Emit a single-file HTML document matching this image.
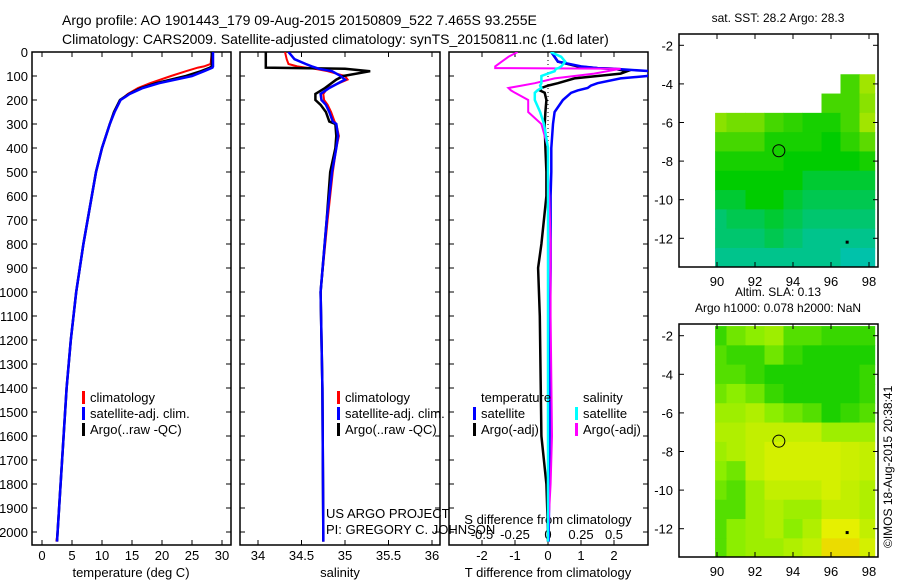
<!DOCTYPE html>
<html><head><meta charset="utf-8"><style>
body{margin:0;background:#fff;}
svg{display:block;font-family:"Liberation Sans",sans-serif;}
</style></head><body>
<svg id="c" width="900" height="580" viewBox="0 0 900 580">
<text x="62" y="25" font-size="14">Argo profile: AO 1901443_179 09-Aug-2015 20150809_522 7.465S 93.255E</text>
<text x="62" y="44" font-size="14">Climatology: CARS2009. Satellite-adjusted climatology: synTS_20150811.nc (1.6d later)</text>
</svg>
<script>
// ---- data ----
const tDepth = [0,50,60,65,80,100,130,150,175,200,250,300,400,500,600,700,800,900,1000,1200,1400,1600,1800,2000,2040];
const tArgo  = [28.3,28.3,28.3,28.0,26.5,24,19,16.5,14.5,13,12,11.3,10,9,8.3,7.6,6.9,6.3,5.7,4.8,4.1,3.6,3.1,2.6,2.5];
const tClim  = [28.3,28.1,27.0,26.0,24.0,21.5,18.0,16.0,14.3,13.1,12.1,11.3,10,9,8.3,7.6,6.9,6.3,5.7,4.8,4.1,3.6,3.1,2.6,2.4];
const tSat   = [28.5,28.5,28.5,28.4,27.0,25.0,19.5,16.8,14.6,13.1,12.1,11.3,10,9,8.3,7.6,6.9,6.3,5.7,4.8,4.1,3.6,3.1,2.6,2.5];
const sDepth = [0,30,50,60,65,70,80,100,115,150,175,200,220,250,290,300,350,400,500,700,1000,1400,2000,2040];
const sArgo  = [34.09,34.09,34.09,34.09,34.09,35.0,35.29,34.98,34.9,34.77,34.66,34.66,34.72,34.78,34.82,34.89,34.9,34.89,34.83,34.79,34.72,34.74,34.75,34.75];
const sClim  = [34.31,34.33,34.35,34.45,34.55,34.65,34.8,35.0,35.03,34.8,34.75,34.76,34.8,34.84,34.88,34.9,34.93,34.9,34.86,34.8,34.72,34.74,34.75,34.75];
const sSat   = [34.35,34.42,34.55,34.62,34.66,34.7,34.85,34.95,35.0,34.82,34.72,34.73,34.78,34.82,34.86,34.9,34.92,34.9,34.85,34.79,34.72,34.74,34.75,34.75];
const dDepth = [0,20,40,60,67,70,80,90,100,110,130,140,150,160,170,200,250,300,400,500,600,800,900,1100,1600,1800,2000,2040];
const dTSat  = [0.1,0.2,0.3,1.0,1.5,2.0,3.1,3.1,3.0,2.2,1.5,1.3,1.2,0.9,0.7,0.45,0.2,0.15,0.1,0.1,0.08,0.08,0.08,0.06,0.05,0.04,0.02,0.02];
const dTArgo = [0.1,0.2,0.3,0.9,1.5,2.0,2.4,2.2,1.5,0.8,0.3,0.0,-0.2,-0.25,-0.1,-0.05,-0.08,-0.1,-0.08,-0.05,-0.05,-0.2,-0.3,-0.25,-0.2,-0.05,0,0];
const dSSat  = [0.02,0.1,0.13,0.1,0.08,0.06,0.05,0.0,-0.05,-0.05,-0.05,-0.06,-0.05,-0.08,-0.1,-0.1,-0.06,-0.03,0,0,0,0,0,0,0,0,0,0];
const dSArgo = [-0.23,-0.3,-0.35,-0.4,-0.4,0.55,0.45,0.35,0.2,0.05,-0.1,-0.2,-0.3,-0.28,-0.25,-0.15,-0.15,-0.05,0,0,0.01,0.02,0.02,0.02,0.03,0.02,0,0];
const depthTicks = [0,100,200,300,400,500,600,700,800,900,1000,1100,1200,1300,1400,1500,1600,1700,1800,1900,2000];
const tTicks = [0,5,10,15,20,25,30];
const sTicks = [34,34.5,35,35.5,36];
const dTTicks = [-2,-1,0,1,2];
const dSTicks = [-0.5,-0.25,0,0.25,0.5];
const latTicks = [-2,-4,-6,-8,-10,-12];
const lonTicks = [90,92,94,96,98];
const mapLons = [90,91,92,93,94,95,96,97,98];
const sstLats = [-4,-5,-6,-7,-8,-9,-10,-11,-12,-13];
const sstVals = [
[null,null,null,null,null,null,null,0.3,0.7],
[null,null,null,null,null,null,0.3,0.3,0.6],
[0.6,0.5,0.5,0.3,0.2,0.1,0.1,0.3,0.7],
[0.3,0.3,0.3,0.1,0.1,0.1,0.0,0.2,0.4],
[0.1,0.1,0.1,0.1,0,0,0,0,0.1],
[0,0,0,0,0,-0.1,-0.1,-0.1,-0.1],
[-0.1,-0.1,0,0,-0.1,-0.2,-0.2,-0.2,-0.2],
[-0.3,-0.2,-0.2,-0.1,-0.2,-0.3,-0.3,-0.3,-0.3],
[-0.3,-0.3,-0.3,-0.2,-0.3,-0.4,-0.4,-0.4,-0.4],
[-0.4,-0.4,-0.4,-0.4,-0.4,-0.4,-0.4,-0.5,-0.5]];
const slaLats = [-2,-3,-4,-5,-6,-7,-8,-9,-10,-11,-12,-13];
const slaVals = [
[.2,.4,.5,.6,.3,.3,.2,.2,.2],
[.3,.2,.2,.4,.2,.1,.1,.1,.1],
[.3,.3,.2,.1,.1,.1,.1,.1,.2],
[.4,.5,.4,.2,.1,.1,.1,.1,.2],
[.6,.6,.7,.5,.4,.3,.1,.2,.3],
[.7,.7,.8,.8,.8,.8,.6,.6,.6],
[.6,.7,.8,.9,.9,.9,.9,.85,.8],
[.5,.4,.8,.9,.9,.9,.9,.85,.8],
[.4,.3,.6,.8,.8,.8,.9,.8,.7],
[.3,.3,.6,.7,.6,.6,.8,.8,.7],
[.3,.5,.6,.7,.5,.7,1.0,1.0,.8],
[.3,.5,.6,.6,.7,.8,1.1,1.1,.9]];
const argoLon = 93.255, argoLat = -7.465;

// ---- helpers ----
const svg = document.getElementById('c');
const NS = 'http://www.w3.org/2000/svg';
function mk(tag, attrs, parent){const e=document.createElementNS(NS,tag);for(const k in attrs)e.setAttribute(k,attrs[k]);(parent||svg).appendChild(e);return e;}
const yTop=52, yBot=545;
const yD = d => yTop + d*0.24;
function clip(id,x,y,w,h){const cp=mk('clipPath',{id:id});mk('rect',{x:x,y:y,width:w,height:h},cp);}

function panel(name,x0,x1){
  const r=mk('rect',{x:x0,y:yTop,width:x1-x0,height:yBot-yTop,fill:'none',stroke:'#000','stroke-width':1.5});
  
  
  depthTicks.forEach(d=>{mk('line',{x1:x0,x2:x0+5,y1:yD(d),y2:yD(d),stroke:'#000'});mk('line',{x1:x1-5,x2:x1,y1:yD(d),y2:yD(d),stroke:'#000'});});
  clip(name+'-clip',x0,yTop,x1-x0,yBot-yTop);
}
function line(name,xs,ds,fx,color,w,cid){
  const pts=xs.map((v,i)=>fx(v).toFixed(1)+','+yD(ds[i]).toFixed(1)).join(' ');
  const p=mk('polyline',{points:pts,fill:'none',stroke:color,'stroke-width':w||2,'clip-path':'url(#'+cid+')'});
  
  
}
function txt(s,x,y,name,opts){const t=mk('text',Object.assign({x:x,y:y,'font-size':13},opts||{}));t.textContent=s;
  
  return t;}
function xticks(ticks,fx,y){
  ticks.forEach(t=>{const x=fx(t);mk('line',{x1:x,x2:x,y1:yBot-5,y2:yBot,stroke:'#000'});mk('line',{x1:x,x2:x,y1:yTop,y2:yTop+5,stroke:'#000'});
    txt(String(t),x,y,'x-tick-label',{'text-anchor':'middle'});});
}
function legend(items,x,y,name){items.forEach((it,i)=>{mk('rect',{x:x,y:y+i*16-11,width:3,height:13,fill:it[1]});
  txt(it[0],x+8,y+i*16,name+'-entry');});}

// depth labels
depthTicks.forEach(d=>{txt(String(d),28,yD(d)+5,'y-tick-label',{'text-anchor':'end'});});

// panel 1 temperature
const fT = t => 42 + 6*t;
panel('temperature-panel',32,231);
xticks(tTicks,fT,560);
txt('temperature (deg C)',131,577,'x-axis-title-temperature',{'text-anchor':'middle'});
line('temp-climatology',tClim,tDepth,fT,'#f00',2,'temperature-panel-clip');
line('temp-argo',tArgo,tDepth,fT,'#000',2.5,'temperature-panel-clip');
line('temp-satellite',tSat,tDepth,fT,'#00f',2.5,'temperature-panel-clip');
legend([['climatology','#f00'],['satellite-adj. clim.','#00f'],['Argo(..raw -QC)','#000']],82,402,'temp-legend');

// panel 2 salinity
const fS = s => 258 + 87*(s-34);
panel('salinity-panel',240,440);
xticks(sTicks,fS,560);
txt('salinity',340,577,'x-axis-title-salinity',{'text-anchor':'middle'});
line('sal-climatology',sClim,sDepth,fS,'#f00',2,'salinity-panel-clip');
line('sal-argo',sArgo,sDepth,fS,'#000',2.5,'salinity-panel-clip');
line('sal-satellite',sSat,sDepth,fS,'#00f',2.5,'salinity-panel-clip');
legend([['climatology','#f00'],['satellite-adj. clim.','#00f'],['Argo(..raw -QC)','#000']],337,402,'sal-legend');
txt('US ARGO PROJECT',326,518,'project-label');
txt('PI: GREGORY C. JOHNSON',326,534,'pi-label');

// panel 3 differences
const fDT = v => 548 + 33*v;
const fDS = v => 548 + 132*v;
panel('difference-panel',449,648);
xticks(dTTicks,fDT,560);
dSTicks.forEach(t=>{txt(String(t),fDS(t),539,'s-diff-tick-label',{'text-anchor':'middle'});});
txt('S difference from climatology',548,524,'s-diff-axis-title',{'text-anchor':'middle'});
txt('T difference from climatology',548,577,'t-diff-axis-title',{'text-anchor':'middle'});
mk('line',{x1:548,x2:548,y1:yTop,y2:yBot,stroke:'#000','stroke-dasharray':'1,3'});
line('tdiff-argo',dTArgo,dDepth,fDT,'#000',2.5,'difference-panel-clip');
line('tdiff-satellite',dTSat,dDepth,fDT,'#00f',2.5,'difference-panel-clip');
line('sdiff-argo',dSArgo,dDepth,fDS,'#f0f',2,'difference-panel-clip');
line('sdiff-satellite',dSSat,dDepth,fDS,'#0ff',2.5,'difference-panel-clip');
txt('temperature',481,402,'diff-legend-temperature-header');
txt('salinity',583,402,'diff-legend-salinity-header');
legend([['satellite','#00f'],['Argo(-adj)','#000']],473,418,'diff-legend-temp');
legend([['satellite','#0ff'],['Argo(-adj)','#f0f']],575,418,'diff-legend-sal');

// ---- maps ----
function colSST(v){
  if(v<0){const f=Math.min(1,-v/0.5);return 'rgb(0,'+Math.round(204-10*f)+','+Math.round(20+150*f)+')';}
  const f=Math.min(1,v);return 'rgb('+Math.round(230*f)+','+Math.round(204+36*f)+',0)';}
function colSLA(v){
  if(v<=0.5){const f=v/0.5;return 'rgb('+Math.round(140*f)+','+Math.round(200+38*f)+',0)';}
  if(v<=1){const f=(v-0.5)/0.5;return 'rgb('+Math.round(140+90*f)+','+Math.round(238+2*f)+',0)';}
  const f=Math.min(1,(v-1)/0.2);return 'rgb('+Math.round(230+10*f)+','+Math.round(240-40*f)+',0)';}
function mapPanel(name,y0,y1,lat2y,lats,vals,colf,title1,title2){
  const x0=679,x1=878;
  const fx = lon => 717 + 19*(lon-90);
  clip(name+'-clip',x0,y0,x1-x0,y1-y0);
  const g=mk('g',{'clip-path':'url(#'+name+'-clip)'});
  
  
  lats.forEach((la,i)=>mapLons.forEach((lo,j)=>{const v=vals[i][j];if(v===null)return;
    let xa=fx(Math.max(lo-0.5,89.9)),xb=fx(Math.min(lo+0.5,98.3));
    const c=mk('rect',{x:xa,y:lat2y(la+0.5),width:xb-xa+0.5,height:lat2y(la-0.5)-lat2y(la+0.5)+0.5,fill:colf(v)},g);
    
    }));
  const fr=mk('rect',{x:x0,y:y0,width:x1-x0,height:y1-y0,fill:'none',stroke:'#000','stroke-width':1.5});
  
  
  latTicks.forEach(la=>{const y=lat2y(la);mk('line',{x1:x0,x2:x0+5,y1:y,y2:y,stroke:'#000'});mk('line',{x1:x1-5,x2:x1,y1:y,y2:y,stroke:'#000'});
    txt(String(la),673,y+5,'lat-tick-label',{'text-anchor':'end'});});
  lonTicks.forEach(lo=>{const x=fx(lo);mk('line',{x1:x,x2:x,y1:y0,y2:y0+5,stroke:'#000'});mk('line',{x1:x,x2:x,y1:y1-5,y2:y1,stroke:'#000'});
    txt(String(lo),x,y1+19,'lon-tick-label',{'text-anchor':'middle'});});
  const ci=mk('circle',{cx:fx(argoLon),cy:lat2y(argoLat),r:6,fill:'none',stroke:'#000','stroke-width':1});
  
  
  mk('rect',{x:fx(96.85)-1.5,y:lat2y(-12.2)-1.5,width:3,height:3,fill:'#000'});
  txt(title1,778,y0-12-(title2?16:0),name+'-title',{'text-anchor':'middle','font-size':12});
  if(title2)txt(title2,778,y0-12,name+'-subtitle',{'text-anchor':'middle','font-size':12});
}
mapPanel('sst-map',34,267,la=>45.3+19.3*(-2-la),sstLats,sstVals,colSST,'sat. SST: 28.2 Argo: 28.3');
mapPanel('sla-map',324,557,la=>335.7+19.3*(-2-la),slaLats,slaVals,colSLA,'Altim. SLA: 0.13','Argo h1000: 0.078 h2000: NaN');
txt('©IMOS 18-Aug-2015 20:38:41',892,548,'timestamp-label',{'transform':'rotate(-90 892 548)','font-size':12});
</script>
</body></html>
